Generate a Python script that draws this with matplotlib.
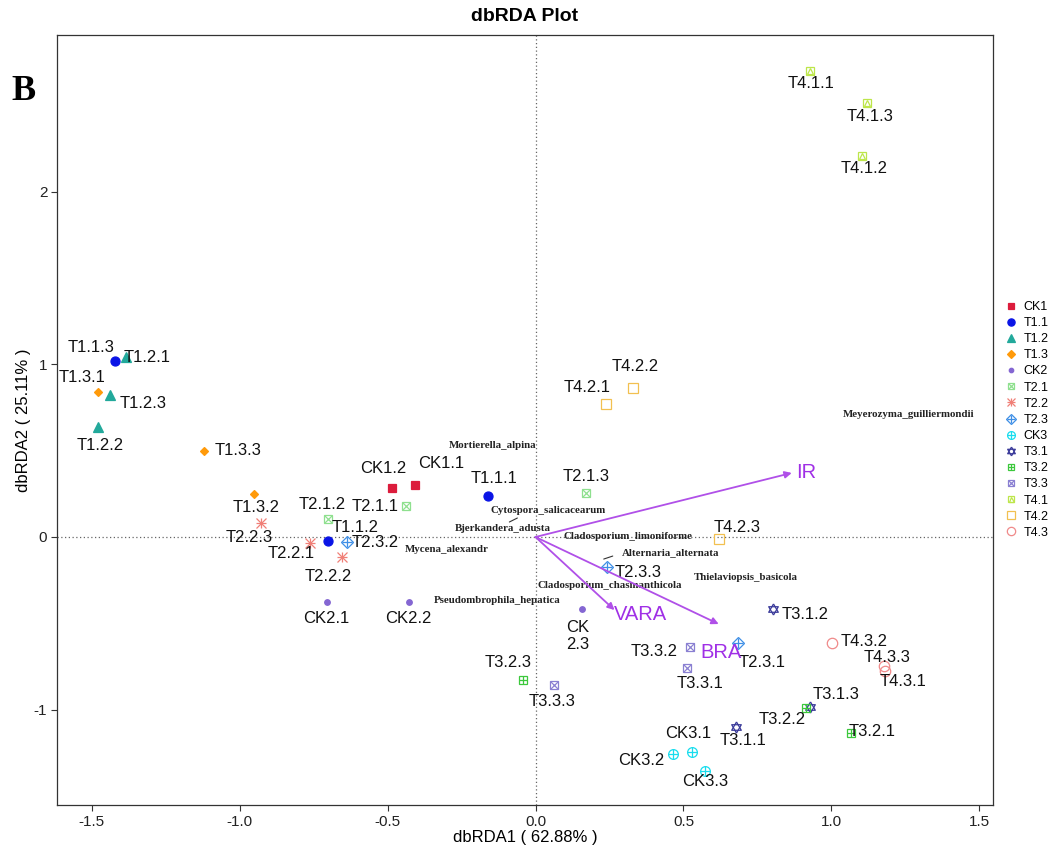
import numpy as np
import matplotlib.pyplot as plt
from matplotlib.transforms import offset_copy

# sample scores (dbRDA1, dbRDA2)
samples = ['CK1.1', 'CK1.2', 'T1.1.1', 'T1.1.2', 'T1.1.3', 'T1.2.1', 'T1.2.2', 'T1.2.3',
           'T1.3.1', 'T1.3.2', 'T1.3.3', 'CK2.1', 'CK2.2', 'CK2.3', 'T2.1.1', 'T2.1.2',
           'T2.1.3', 'T2.2.1', 'T2.2.2', 'T2.2.3', 'T2.3.1', 'T2.3.2', 'T2.3.3', 'CK3.1',
           'CK3.2', 'CK3.3', 'T3.1.1', 'T3.1.2', 'T3.1.3', 'T3.2.1', 'T3.2.2', 'T3.2.3',
           'T3.3.1', 'T3.3.2', 'T3.3.3', 'T4.1.1', 'T4.1.2', 'T4.1.3', 'T4.2.1', 'T4.2.2',
           'T4.2.3', 'T4.3.1', 'T4.3.2', 'T4.3.3']
dbrda1 = [-0.406, -0.484, -0.159, -0.700, -1.420, -1.383, -1.478, -1.437,
          -1.478, -0.950, -1.119, -0.703, -0.429, 0.156, -0.436, -0.700,
          0.169, -0.761, -0.653, -0.927, 0.683, -0.636, 0.240, 0.528,
          0.463, 0.572, 0.676, 0.801, 0.927, 1.065, 0.913, -0.041,
          0.511, 0.521, 0.061, 0.927, 1.102, 1.119, 0.237, 0.328,
          0.619, 1.180, 1.001, 1.177]
dbrda2 = [0.301, 0.284, 0.237, -0.023, 1.019, 1.042, 0.637, 0.822,
          0.840, 0.249, 0.498, -0.376, -0.376, -0.417, 0.180, 0.104,
          0.255, -0.035, -0.116, 0.081, -0.614, -0.029, -0.174, -1.245,
          -1.257, -1.355, -1.100, -0.417, -0.984, -1.135, -0.990, -0.828,
          -0.759, -0.637, -0.857, 2.698, 2.206, 2.513, 0.770, 0.863,
          -0.012, -0.776, -0.614, -0.747]

group_order = ['CK1', 'T1.1', 'T1.2', 'T1.3', 'CK2', 'T2.1', 'T2.2', 'T2.3',
               'CK3', 'T3.1', 'T3.2', 'T3.3', 'T4.1', 'T4.2', 'T4.3']

# environmental arrows
env_names = ['IR', 'VARA', 'BRA']
env_x = [0.866, 0.267, 0.619]
env_y = [0.371, -0.423, -0.504]

# species labels
species = ['Mortierella_alpina', 'Cytospora_salicacearum', 'Bjerkandera_adusta',
           'Cladosporium_limoniforme', 'Alternaria_alternata', 'Thielaviopsis_basicola',
           'Cladosporium_chasmanthicola', 'Mycena_alexandr', 'Pseudombrophila_hepatica',
           'Meyerozyma_guilliermondii']
sp_x = [-0.145, 0.041, -0.112, 0.311, 0.457, 0.710, 0.252, -0.301, -0.129, 1.261]
sp_y = [0.527, 0.151, 0.052, 0.0, -0.093, -0.237, -0.278, -0.075, -0.365, 0.712]

# star of David pieces (triangles centred on their centroid)
tri_up = [(0, 1), (-0.866, -0.5), (0.866, -0.5), (0, 1)]
tri_dn = [(0, -1), (-0.866, 0.5), (0.866, 0.5), (0, -1)]

# marker styles per group: colour, [(marker, filled)], size
styles = {
    'CK1': ('#DC1C3C', [('s', True)], 6),
    'T1.1': ('#0A14E6', [('o', True)], 6.5),
    'T1.2': ('#22A99B', [('^', True)], 7),
    'T1.3': ('#FF9A0A', [('D', True)], 4.5),
    'CK2': ('#8466D2', [('o', True)], 4),
    'T2.1': ('#8FE08F', [('s', False), ('x', False)], 6),
    'T2.2': ('#F07F77', [('+', False), ('x', False)], 7.5),
    'T2.3': ('#3F8FE6', [('D', False), ('+', False)], 6.5),
    'CK3': ('#18DDEE', [('o', False), ('+', False)], 7),
    'T3.1': ('#3A3A9A', [(tri_up, False), (tri_dn, False)], 8),
    'T3.2': ('#3CC83C', [('s', False), ('+', False)], 6),
    'T3.3': ('#8A80D2', [('s', False), ('x', False)], 6),
    'T4.1': ('#BDE64A', [('s', False), ('^', False)], 6),
    'T4.2': ('#F2C050', [('s', False)], 7),
    'T4.3': ('#F08A8A', [('o', False)], 7.5),
}

# label offsets in pixels (dx, dy)
offsets = {
    'CK1.1': (26, 22), 'CK1.2': (-9, 19), 'T1.1.1': (6, 18), 'T1.1.2': (27, 13),
    'T1.1.3': (-24, 14), 'T1.2.1': (21, 0), 'T1.2.2': (2, -19), 'T1.2.3': (33, -8),
    'T1.3.1': (-16, 14), 'T1.3.2': (2, -14), 'T1.3.3': (34, 0), 'CK2.1': (-1, -17),
    'CK2.2': (0, -17), 'CK2.3': (-4, -27), 'T2.1.1': (-31, -1), 'T2.1.2': (-6, 15),
    'T2.1.3': (1, 16), 'T2.2.1': (-19, -10), 'T2.2.2': (-14, -19), 'T2.2.3': (-12, -14),
    'T2.3.1': (25, -19), 'T2.3.2': (28, 0), 'T2.3.3': (32, -5), 'CK3.1': (-4, 18),
    'CK3.2': (-31, -6), 'CK3.3': (0, -11), 'T3.1.1': (8, -14), 'T3.1.2': (33, -5),
    'T3.1.3': (26, 12), 'T3.2.1': (21, 1), 'T3.2.2': (-23, -12), 'T3.2.3': (-15, 17),
    'T3.3.1': (13, -15), 'T3.3.2': (-36, -5), 'T3.3.3': (-1, -17), 'T4.1.1': (1, -12),
    'T4.1.2': (3, -12), 'T4.1.3': (3, -13), 'T4.2.1': (-19, 17), 'T4.2.2': (3, 21),
    'T4.2.3': (18, 12), 'T4.3.1': (18, -11), 'T4.3.2': (32, 2), 'T4.3.3': (3, 8),
}
env_offsets = {'IR': (14, 0), 'VARA': (26, -4), 'BRA': (2, -28)}

sans = ['Liberation Sans', 'DejaVu Sans']
narrow = ['Liberation Sans Narrow', 'Liberation Sans', 'DejaVu Sans']
serif = ['Liberation Serif', 'DejaVu Serif']
plt.rcParams['font.family'] = sans
plt.rcParams['axes.unicode_minus'] = False

fig = plt.figure(figsize=(10.61, 8.49), dpi=100)
ax = fig.add_axes([57 / 1061, 44 / 849, (993 - 57) / 1061, (805 - 35) / 849])

ax.axhline(0, color='#666666', lw=0.9, ls=(0, (1, 2)), zorder=1)
ax.axvline(0, color='#666666', lw=0.9, ls=(0, (1, 2)), zorder=1)

x = np.array(dbrda1)
y = np.array(dbrda2)
grp = np.array([s.rsplit('.', 1)[0] for s in samples])

handles = []
for g in group_order:
    col, parts, ms = styles[g]
    m = grp == g
    hs = []
    for mk, filled in parts:
        size = ms * 0.75 if isinstance(mk, str) and mk == '^' and not filled else ms
        h, = ax.plot(x[m], y[m], ls='none', marker=mk, ms=size, color=col,
                     mfc=col if filled else 'none', mec=col, mew=0.9, zorder=3)
        hs.append(h)
    handles.append(tuple(hs))

for s, xi, yi in zip(samples, x, y):
    lab = 'CK\n2.3' if s == 'CK2.3' else s
    ax.annotate(lab, (xi, yi), xytext=offsets[s], textcoords='offset pixels',
                ha='center', va='center', fontsize=12, color='#111111',
                linespacing=1.2, zorder=4)

for n, ex, ey in zip(env_names, env_x, env_y):
    ax.annotate('', xy=(ex, ey), xytext=(0, 0),
                arrowprops=dict(arrowstyle='-|>', color='#B050E8', lw=1.3,
                                mutation_scale=10, shrinkA=0, shrinkB=0), zorder=5)
    ax.annotate(n, (ex, ey), xytext=env_offsets[n], textcoords='offset pixels',
                ha='center', va='center', fontsize=14.5, color='#A030E6', zorder=5)

for n, sx, sy in zip(species, sp_x, sp_y):
    ax.text(sx, sy, n, ha='center', va='center', fontsize=7.8, fontweight='bold',
            family=serif, color='#222222', zorder=4)

# short repel leader segments next to two species labels
for i, (a, b) in [(2, ((7, 6), (15, 10))), (4, ((-67, -6), (-58, -3)))]:
    start = offset_copy(ax.transData, fig=fig, x=a[0], y=a[1], units='dots')
    ax.annotate('', xy=(sp_x[i], sp_y[i]), xycoords=start,
                xytext=(b[0] - a[0], b[1] - a[1]), textcoords='offset pixels',
                arrowprops=dict(arrowstyle='-', color='#333333', lw=0.8,
                                shrinkA=0, shrinkB=0))

ax.set_xlim(-1.617, 1.546)
ax.set_ylim(-1.552, 2.907)
ax.set_xticks([-1.5, -1.0, -0.5, 0.0, 0.5, 1.0, 1.5])
ax.set_yticks([-1, 0, 1, 2])
ax.tick_params(direction='out', length=4, width=0.8, color='#333333', labelsize=11,
               labelcolor='#222222', pad=3)
for lab in ax.get_xticklabels() + ax.get_yticklabels():
    lab.set_family(narrow)
for sp in ax.spines.values():
    sp.set_color('#333333')
    sp.set_linewidth(0.9)

ax.set_xlabel('dbRDA1 ( 62.88% )', family=narrow, fontsize=12, labelpad=1)
ax.set_ylabel('dbRDA2 ( 25.11% )', family=narrow, fontsize=12, labelpad=2)
ax.set_title('dbRDA Plot', family=narrow, fontsize=14, fontweight='bold', pad=10)

fig.text(0.011, 0.882, 'B', family=serif, fontsize=26, fontweight='bold')

fig.legend(handles, group_order, loc='upper left', bbox_to_anchor=(1000 / 1061, 1 - 296 / 849),
           frameon=False, fontsize=9, handlelength=1.0, handletextpad=0.5,
           labelspacing=0.33, borderaxespad=0, markerscale=0.8)

fig.savefig('out.png', dpi=100)
